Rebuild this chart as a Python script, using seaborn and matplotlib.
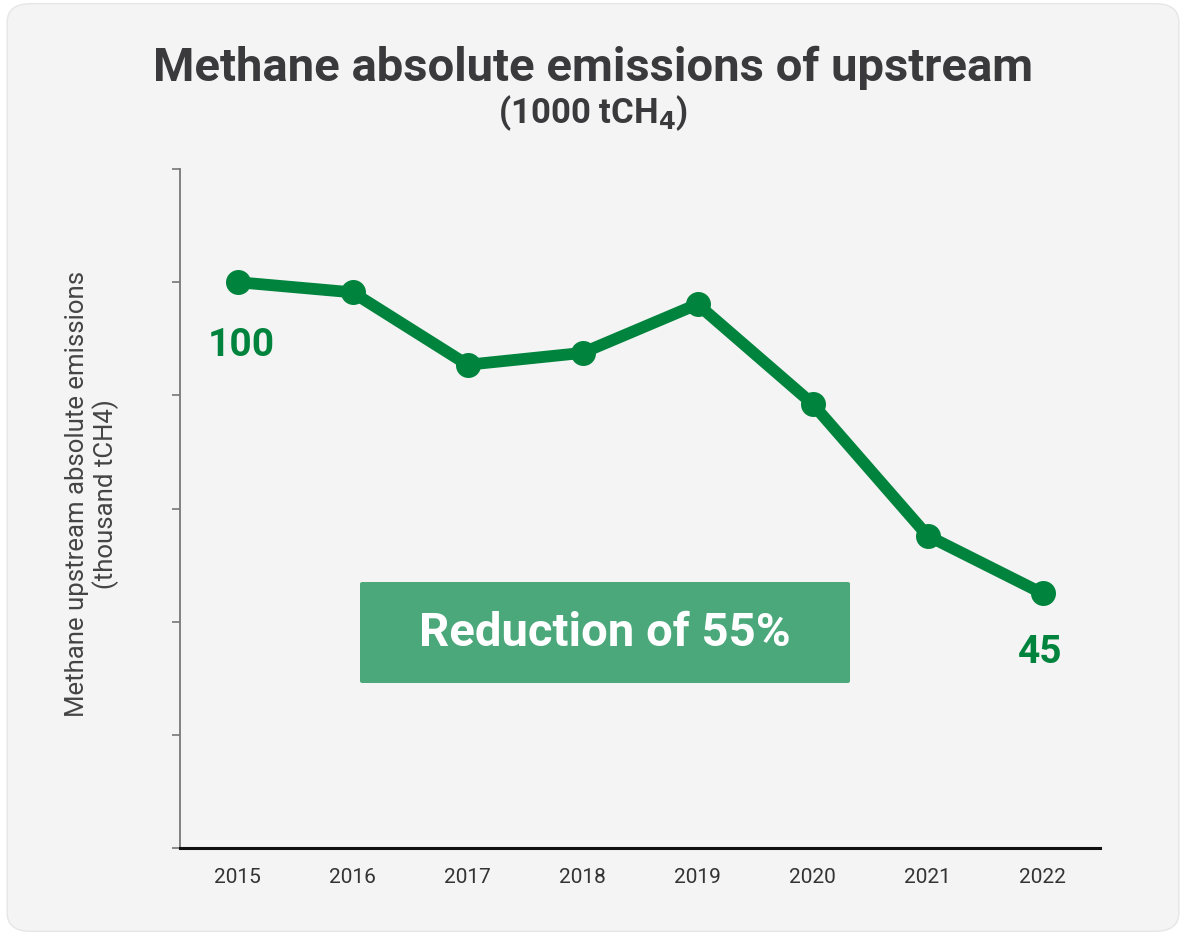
import matplotlib
matplotlib.use("Agg")
import matplotlib.pyplot as plt
from matplotlib.patches import FancyBboxPatch
import seaborn as sns
import pandas as pd

years = ["2015", "2016", "2017", "2018", "2019", "2020", "2021", "2022"]
emissions = [100, 98.2, 85.4, 87.5, 96.1, 78.5, 55.2, 45]
y_ticks = [0, 20, 40, 60, 80, 100, 120]
first_label = "100"
last_label = "45"
reduction_text = "Reduction of 55%"
title = "Methane absolute emissions of upstream"
subtitle = "(1000 tCH$_\\mathbf{4}$)"
y_label = "Methane upstream absolute emissions\n(thousand tCH4)"

sns.set_theme(style="white")
plt.rcParams["font.family"] = ["Roboto", "DejaVu Sans"]

GREEN = "#00843d"
BOX = "#4aa87a"
BG = "#f4f4f4"

fig = plt.figure(figsize=(11.86, 9.37), dpi=100, facecolor="white")
fig.patches.append(FancyBboxPatch((0.006, 0.005), 0.988, 0.99,
                                  boxstyle="round,pad=0,rounding_size=0.02",
                                  transform=fig.transFigure, facecolor=BG,
                                  edgecolor="#e6e6e6", linewidth=1, zorder=-1))

ax = fig.add_axes([180 / 1186, 1 - 849 / 937, 920 / 1186, 679 / 937])
ax.set_facecolor("none")
ax.set_zorder(1)

df = pd.DataFrame({"year": years, "value": emissions})
df["pos"] = range(len(years))
sns.lineplot(data=df, x="pos", y="value", ax=ax, color=GREEN, linewidth=8.5,
             marker="o", markersize=18, markeredgewidth=0, zorder=3)

ax.set_xlim(-0.5, len(years) - 0.5)
ax.set_ylim(0, 120)
ax.set_xticks(df["pos"])
ax.set_xticklabels(years)
ax.set_yticks(y_ticks)
ax.set_yticklabels([])
ax.tick_params(axis="x", length=0, pad=14, labelsize=15, labelcolor="#333333")
ax.tick_params(axis="y", left=True, length=6, width=1.2, color="#777777", direction="out")
for s in ["top", "right"]:
    ax.spines[s].set_visible(False)
ax.spines["left"].set_color("#777777")
ax.spines["left"].set_linewidth(1.3)
ax.spines["bottom"].set_color("#111111")
ax.spines["bottom"].set_linewidth(2.2)
ax.set_xlabel("")
ax.set_ylabel(y_label, fontsize=18.5, color="#444444", linespacing=1.15)
ax.yaxis.set_label_coords(-0.066, 0.523)

# value labels at the first and last year
ax.annotate(first_label, (0, emissions[0]), xytext=(4, -62), textcoords="offset pixels",
            ha="center", va="center", fontsize=28, fontweight="bold", color=GREEN)
ax.annotate(last_label, (len(years) - 1, emissions[-1]), xytext=(-2, -58),
            textcoords="offset pixels", ha="center", va="center",
            fontsize=28, fontweight="bold", color=GREEN)

# reduction callout box
box_l, box_b, box_w, box_h = 360 / 1186, 1 - 684 / 937, 490 / 1186, 101 / 937
fig.patches.append(FancyBboxPatch((box_l, box_b), box_w, box_h,
                                  boxstyle="round,pad=0,rounding_size=0.002",
                                  transform=fig.transFigure, facecolor=BOX,
                                  edgecolor="none", zorder=2))
fig.text(box_l + box_w / 2, box_b + box_h / 2, reduction_text, ha="center", va="center",
         fontsize=34, fontweight="bold", color="white", zorder=5)

fig.text(0.5, 1 - 68 / 937, title, ha="center", va="center", fontsize=34,
         fontweight="bold", color="#3a3a3c")
fig.text(0.5, 1 - 113 / 937, subtitle, ha="center", va="center", fontsize=25,
         fontweight="bold", color="#3a3a3c")

fig.savefig("out.png", dpi=100, facecolor="white")
